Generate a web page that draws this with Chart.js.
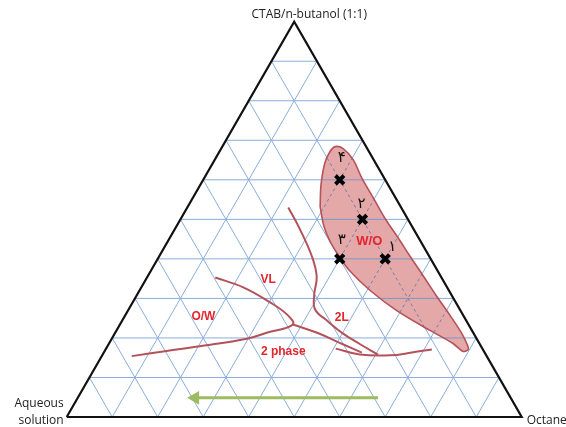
<!DOCTYPE html>
<html>
<head>
<meta charset="utf-8">
<script src="https://cdn.jsdelivr.net/npm/chart.js@4.4.1/dist/chart.umd.min.js"></script>
<style>
  html, body { margin: 0; padding: 0; background: #ffffff; }
  #wrap { width: 566px; height: 427px; position: relative; }
</style>
</head>
<body>
<div id="wrap"><canvas id="c" width="566" height="427"></canvas></div>
<script>
// Pseudo-ternary phase diagram: CTAB/n-butanol (1:1) – aqueous solution – octane.
// All compositions are [octane %, surfactant %]; the aqueous share is the remainder.

const vertexNames = ['CTAB/n-butanol (1:1)', 'Aqueous', 'solution', 'Octane'];
const gridSteps = [10, 20, 30, 40, 50, 60, 70, 80, 90];

// W/O microemulsion region outline
const woRegion = [
  [29.1, 53.2], [26.5, 58.8], [24.6, 64.3], [24.3, 67.1], [24.8, 68.4], [26.8, 67.9],
  [30.4, 65.1], [34.6, 60.5], [40.1, 55.0], [45.2, 49.9], [50.1, 45.4], [55.2, 40.6],
  [60.4, 35.8], [66.1, 30.5], [71.4, 25.7], [76.0, 21.4], [78.8, 18.4], [79.7, 17.1],
  [78.8, 16.6], [75.6, 18.6], [68.9, 21.9], [59.1, 26.9], [50.7, 32.0], [43.7, 37.0],
  [39.4, 40.8], [35.7, 44.4], [32.3, 48.4], [29.1, 53.2]
];

// phase boundaries
const curve2L = [[22.2, 53.0], [27.6, 47.4], [33.6, 40.6], [37.2, 35.5], [38.9, 31.0],
  [41.0, 27.2], [45.0, 24.4], [50.2, 21.1], [55.3, 18.4], [60.5, 15.8]];
const curveVL = [[15.0, 35.3], [22.4, 32.8], [30.2, 29.0], [35.5, 25.9], [38.0, 23.4],
  [33.3, 21.3], [29.7, 19.8], [20.3, 17.9], [13.6, 16.7], [6.6, 15.4]];
const curveBranch = [[38.0, 23.4], [44.4, 21.3], [51.5, 18.4], [56.7, 16.3]];
const curveBase = [[50.5, 17.3], [56.5, 15.8], [63.3, 15.6], [67.7, 16.3], [71.7, 17.1]];

// selected formulations
const sampleNames = ['۱', '۲', '۳', '۴'];
const sampleOctane = [50, 40, 40, 30];
const sampleSurf = [40, 50, 40, 60];

// region names
const regionNames = ['W/O', 'VL', 'O/W', '2L', '2 phase'];
const regionOctane = [44.3, 26.9, 17.3, 47.9, 39.4];
const regionSurf = [44.4, 34.8, 25.5, 25.1, 16.4];

// dilution direction arrow (towards the aqueous corner)
const arrowOctane = [66.0, 25.8];
const arrowSurf = [4.85, 4.85];

// ---------------------------------------------------------------
const H = Math.sqrt(3) / 2;
const tern = (o, s) => ({ x: o / 100 + s / 200, y: (s / 100) * H });
const toPts = arr => arr.map(p => tern(p[0], p[1]));

const woPoly = toPts(woRegion);

function crossings(P, Q, poly) {
  const ts = [];
  for (let i = 0; i < poly.length - 1; i++) {
    const A = poly[i], B = poly[i + 1];
    const rx = Q.x - P.x, ry = Q.y - P.y, sx = B.x - A.x, sy = B.y - A.y;
    const den = rx * sy - ry * sx;
    if (Math.abs(den) < 1e-12) continue;
    const t = ((A.x - P.x) * sy - (A.y - P.y) * sx) / den;
    const u = ((A.x - P.x) * ry - (A.y - P.y) * rx) / den;
    if (t > 0 && t < 1 && u >= 0 && u < 1) ts.push(t);
  }
  return ts.sort((a, b) => a - b);
}
function inPoly(pt, poly) {
  let c = false;
  for (let i = 0, j = poly.length - 1; i < poly.length; j = i++) {
    const a = poly[i], b = poly[j];
    if ((a.y > pt.y) !== (b.y > pt.y) &&
        pt.x < (b.x - a.x) * (pt.y - a.y) / (b.y - a.y) + a.x) c = !c;
  }
  return c;
}

const GRID = '#8aaddb';
function gridLine(P, Q, dashedInside) {
  const ts = crossings(P, Q, woPoly);
  const pts = [P, ...ts.map(t => ({ x: P.x + t * (Q.x - P.x), y: P.y + t * (Q.y - P.y) })), Q];
  const mid = c => inPoly({ x: (c.p0.parsed.x + c.p1.parsed.x) / 2, y: (c.p0.parsed.y + c.p1.parsed.y) / 2 }, woPoly);
  return {
    data: pts, showLine: true, pointRadius: 0, borderWidth: 1, borderColor: GRID,
    order: 10, clip: false,
    segment: {
      borderDash: c => (dashedInside && mid(c)) ? [3, 3] : undefined,
      borderColor: c => mid(c) ? (dashedInside ? '#6f7fa6' : '#7f97c8') : undefined
    }
  };
}

const datasets = [];
gridSteps.forEach(k => {
  // constant surfactant (horizontal)
  datasets.push(gridLine(tern(0, k), tern(100 - k, k), false));
  // constant octane
  datasets.push(gridLine(tern(k, 0), tern(k, 100 - k), true));
  // constant aqueous
  datasets.push(gridLine(tern(100 - k, 0), tern(0, 100 - k), true));
});

// W/O region fill and outline
datasets.push({
  data: woPoly, showLine: true, pointRadius: 0, tension: 0.35, borderWidth: 0,
  borderColor: 'rgba(0,0,0,0)', backgroundColor: 'rgba(205,88,88,0.52)', fill: 'shape', order: 30
});
datasets.push({
  data: woPoly, showLine: true, pointRadius: 0, tension: 0.35, borderWidth: 1.6,
  borderColor: '#b4535a', fill: false, order: 5
});

// triangle frame
datasets.push({
  data: [tern(0, 0), tern(100, 0), tern(0, 100), tern(0, 0)], showLine: true, pointRadius: 0,
  borderWidth: 2.2, borderColor: '#111111', order: 4, clip: false
});

// phase boundaries
[curve2L, curveVL, curveBranch, curveBase].forEach(c => datasets.push({
  data: toPts(c), showLine: true, pointRadius: 0, tension: 0.4, borderWidth: 2,
  borderColor: '#b3525a', order: 3
}));

// arrow
datasets.push({
  data: arrowOctane.map((o, i) => tern(o, arrowSurf[i])), showLine: true, borderWidth: 3,
  borderColor: '#9cbb62', backgroundColor: '#9cbb62',
  pointRadius: [0, 5], pointStyle: 'triangle', rotation: -90, order: 2
});

// formulation markers
datasets.push({
  data: sampleOctane.map((o, i) => tern(o, sampleSurf[i])), showLine: false,
  pointStyle: 'crossRot', pointRadius: 6, borderWidth: 4, borderColor: '#000000', order: 1
});

const textPlugin = {
  id: 'diagramText',
  afterDatasetsDraw(chart) {
    const { ctx, scales: { x, y } } = chart;
    const pix = (o, s) => { const p = tern(o, s); return [x.getPixelForValue(p.x), y.getPixelForValue(p.y)]; };
    ctx.save();
    ctx.textBaseline = 'middle';

    ctx.fillStyle = '#e3262d';
    ctx.font = 'bold 12px "Liberation Sans", Arial, sans-serif';
    ctx.textAlign = 'center';
    regionNames.forEach((n, i) => {
      const [px, py] = pix(regionOctane[i], regionSurf[i]);
      ctx.font = (n === 'W/O' ? 'bold 13px' : 'bold 12px') + ' "Liberation Sans", Arial, sans-serif';
      ctx.fillText(n, px, py);
    });

    ctx.fillStyle = '#111111';
    ctx.font = '15px "DejaVu Sans", sans-serif';
    const offs = [[7, -12], [-1, -15], [2, -19], [2, -22]];
    sampleNames.forEach((n, i) => {
      const [px, py] = pix(sampleOctane[i], sampleSurf[i]);
      ctx.fillText(n, px + offs[i][0], py + offs[i][1]);
    });

    ctx.fillStyle = '#222222';
    ctx.font = '12px "Open Sans", sans-serif';
    const [tx, ty] = pix(0, 100);
    ctx.fillText(vertexNames[0], tx + 15, ty - 7);
    const [lx, ly] = pix(0, 0);
    ctx.textAlign = 'right';
    ctx.fillText(vertexNames[1], lx - 3, ly - 13);
    ctx.fillText(vertexNames[2], lx - 3, ly + 4);
    const [rx, ry] = pix(100, 0);
    ctx.textAlign = 'left';
    ctx.fillText(vertexNames[3], rx + 5, ry + 4);
    ctx.restore();
  }
};

new Chart(document.getElementById('c'), {
  type: 'scatter',
  data: { datasets },
  options: {
    responsive: false,
    animation: false,
    devicePixelRatio: 1,
    layout: { padding: { left: 66.7, right: 44.3, top: 21.7, bottom: 9.3 } },
    scales: {
      x: { type: 'linear', min: 0, max: 1, display: false },
      y: { type: 'linear', min: 0, max: H, display: false }
    },
    plugins: { legend: { display: false }, tooltip: { enabled: false } }
  },
  plugins: [textPlugin]
});
</script>
</body>
</html>
